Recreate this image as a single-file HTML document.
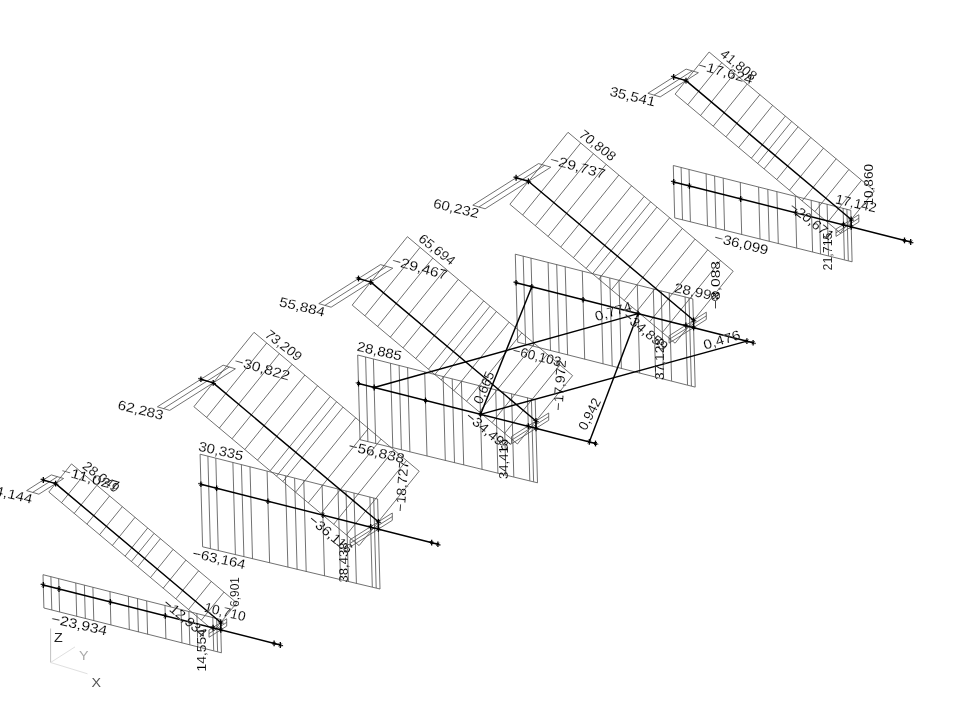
<!DOCTYPE html>
<html><head><meta charset="utf-8"><title>Axial force diagram</title>
<style>
html,body{margin:0;padding:0;background:#fff;}
body{width:960px;height:720px;overflow:hidden;font-family:"Liberation Sans",sans-serif;}
svg{display:block;}
.t{stroke:#4d4d4d;stroke-width:0.8;fill:none;}
.k{stroke:#000;stroke-width:1.45;fill:none;stroke-linejoin:round;}
.s{stroke:#000;stroke-width:1.3;fill:none;}
.s2{stroke:#000;stroke-width:0.9;fill:none;}
text{font-family:"Liberation Sans",sans-serif;}
svg{filter:grayscale(1);}
.lb text{font-size:13.5px;fill:#000;stroke:#fff;stroke-width:0.12;}
</style></head><body>
<svg width="960" height="720" viewBox="0 0 960 720">
<rect width="960" height="720" fill="#fff"/>
<g>
<path class="t" d="M43.0 574.7L220.5 619.5L221.4 652.8L43.9 608.0Z"/>
<path class="t" d="M50.9 576.7L51.8 610.0"/>
<path class="t" d="M58.7 578.7L59.6 612.0"/>
<path class="t" d="M75.8 583.0L76.7 616.3"/>
<path class="t" d="M84.4 585.2L85.3 618.5"/>
<path class="t" d="M92.9 587.4L93.8 620.7"/>
<path class="t" d="M110.0 591.7L110.9 625.0"/>
<path class="t" d="M128.4 596.3L129.3 629.6"/>
<path class="t" d="M137.5 598.7L138.4 632.0"/>
<path class="t" d="M146.7 601.0L147.6 634.3"/>
<path class="t" d="M165.0 605.6L165.9 638.9"/>
<path class="t" d="M181.0 609.5L181.9 642.8"/>
<path class="t" d="M188.9 611.5L189.8 644.8"/>
<path class="t" d="M196.9 613.4L197.8 646.7"/>
<path class="t" d="M212.8 617.3L213.7 650.6"/>
<path class="t" d="M216.7 618.4L217.6 651.7"/>
<path class="t" d="M71.5 463.9L236.7 602.8L214.0 630.9L48.8 492.0Z"/>
<path class="t" d="M84.2 474.6L61.5 502.7"/>
<path class="t" d="M96.9 485.3L74.2 513.4"/>
<path class="t" d="M109.6 496.0L86.9 524.1"/>
<path class="t" d="M122.3 506.7L99.6 534.7"/>
<path class="t" d="M135.0 517.3L112.4 545.4"/>
<path class="t" d="M147.7 528.0L125.1 556.1"/>
<path class="t" d="M160.4 538.7L137.8 566.8"/>
<path class="t" d="M173.1 549.4L150.5 577.5"/>
<path class="t" d="M185.9 560.1L163.2 588.2"/>
<path class="t" d="M198.6 570.8L175.9 598.8"/>
<path class="t" d="M211.3 581.4L188.6 609.5"/>
<path class="t" d="M224.0 592.1L201.3 620.2"/>
<path class="t" d="M154.1 533.4L131.4 561.5"/>
<path class="t" d="M26.6 490.6L51.3 474.9L63.6 478.5L38.9 494.2Z"/>
<path class="t" d="M32.7 492.4L57.5 476.7"/>
<path class="t" d="M209.0 630.0L226.7 618.8L226.7 626.1L209.0 637.3Z"/>
<path class="t" d="M209.0 633.6L226.7 622.4"/>
<path class="t" d="M200.1 454.2L377.6 499.0L380.0 589.0L202.6 546.8Z"/>
<path class="t" d="M207.9 456.2L210.4 548.6"/>
<path class="t" d="M215.8 458.2L218.3 550.5"/>
<path class="t" d="M232.9 462.6L235.4 554.6"/>
<path class="t" d="M241.4 464.8L243.9 556.7"/>
<path class="t" d="M250.0 466.9L252.5 558.7"/>
<path class="t" d="M267.1 471.2L269.6 562.8"/>
<path class="t" d="M285.4 475.9L287.9 567.2"/>
<path class="t" d="M294.6 478.2L297.1 569.4"/>
<path class="t" d="M303.8 480.5L306.2 571.6"/>
<path class="t" d="M322.1 485.1L324.5 575.9"/>
<path class="t" d="M338.0 489.0L340.5 579.6"/>
<path class="t" d="M346.0 491.0L348.4 581.4"/>
<path class="t" d="M354.0 493.0L356.4 583.3"/>
<path class="t" d="M369.9 496.9L372.3 587.0"/>
<path class="t" d="M373.7 498.0L376.2 588.0"/>
<path class="t" d="M254.0 332.3L419.2 471.2L359.1 545.6L193.9 406.7Z"/>
<path class="t" d="M266.7 343.0L206.6 417.4"/>
<path class="t" d="M279.4 353.6L219.3 428.1"/>
<path class="t" d="M292.1 364.3L232.0 438.8"/>
<path class="t" d="M304.9 375.0L244.8 449.5"/>
<path class="t" d="M317.6 385.7L257.5 460.2"/>
<path class="t" d="M330.3 396.4L270.2 470.8"/>
<path class="t" d="M343.0 407.1L282.9 481.5"/>
<path class="t" d="M355.7 417.8L295.6 492.2"/>
<path class="t" d="M368.4 428.4L308.3 502.9"/>
<path class="t" d="M381.1 439.1L321.0 513.6"/>
<path class="t" d="M393.8 449.8L333.7 524.3"/>
<path class="t" d="M406.5 460.5L346.4 534.9"/>
<path class="t" d="M336.6 401.7L276.5 476.2"/>
<path class="t" d="M157.4 406.8L223.1 365.2L235.4 368.8L169.7 410.4Z"/>
<path class="t" d="M163.5 408.6L229.3 367.0"/>
<path class="t" d="M350.1 539.7L392.3 513.0L392.3 520.3L350.1 547.0Z"/>
<path class="t" d="M350.1 543.3L392.3 516.6"/>
<path class="t" d="M357.7 355.0L535.2 399.8L537.5 482.8L360.0 439.7Z"/>
<path class="t" d="M365.6 357.0L367.9 441.6"/>
<path class="t" d="M373.4 359.0L375.7 443.5"/>
<path class="t" d="M390.5 363.3L392.8 447.7"/>
<path class="t" d="M399.1 365.5L401.4 449.8"/>
<path class="t" d="M407.6 367.7L409.9 451.9"/>
<path class="t" d="M424.7 372.0L427.0 456.1"/>
<path class="t" d="M443.1 376.6L445.3 460.5"/>
<path class="t" d="M452.2 378.9L454.5 462.7"/>
<path class="t" d="M461.4 381.3L463.7 465.0"/>
<path class="t" d="M479.7 385.9L482.0 469.4"/>
<path class="t" d="M495.7 389.8L497.9 473.2"/>
<path class="t" d="M503.6 391.8L505.9 475.1"/>
<path class="t" d="M511.6 393.7L513.8 476.9"/>
<path class="t" d="M527.5 397.6L529.8 480.7"/>
<path class="t" d="M531.4 398.7L533.6 481.7"/>
<path class="t" d="M407.4 236.7L572.6 375.6L517.4 444.0L352.2 305.1Z"/>
<path class="t" d="M420.1 247.4L364.9 315.8"/>
<path class="t" d="M432.8 258.1L377.6 326.5"/>
<path class="t" d="M445.5 268.8L390.3 337.2"/>
<path class="t" d="M458.2 279.5L403.0 347.9"/>
<path class="t" d="M471.0 290.2L415.7 358.6"/>
<path class="t" d="M483.7 300.9L428.5 369.2"/>
<path class="t" d="M496.4 311.5L441.2 379.9"/>
<path class="t" d="M509.1 322.2L453.9 390.6"/>
<path class="t" d="M521.8 332.9L466.6 401.3"/>
<path class="t" d="M534.5 343.6L479.3 412.0"/>
<path class="t" d="M547.2 354.3L492.0 422.7"/>
<path class="t" d="M559.9 365.0L504.7 433.3"/>
<path class="t" d="M490.0 306.2L434.8 374.6"/>
<path class="t" d="M318.8 303.6L380.5 264.6L392.8 268.2L331.1 307.2Z"/>
<path class="t" d="M324.9 305.4L386.6 266.4"/>
<path class="t" d="M511.5 436.5L548.7 413.0L548.7 420.3L511.5 443.8Z"/>
<path class="t" d="M511.5 440.2L548.7 416.6"/>
<path class="t" d="M515.3 254.2L692.8 298.9L695.2 387.1L517.7 342.2Z"/>
<path class="t" d="M523.2 256.1L525.6 344.2"/>
<path class="t" d="M531.0 258.1L533.4 346.2"/>
<path class="t" d="M548.1 262.5L550.5 350.6"/>
<path class="t" d="M556.7 264.6L559.1 352.8"/>
<path class="t" d="M565.2 266.8L567.6 354.9"/>
<path class="t" d="M582.3 271.1L584.7 359.2"/>
<path class="t" d="M600.7 275.8L603.0 363.9"/>
<path class="t" d="M609.8 278.1L612.2 366.2"/>
<path class="t" d="M619.0 280.4L621.4 368.5"/>
<path class="t" d="M637.3 285.0L639.7 373.1"/>
<path class="t" d="M653.3 288.9L655.6 377.1"/>
<path class="t" d="M661.2 290.9L663.6 379.0"/>
<path class="t" d="M669.2 292.8L671.6 380.9"/>
<path class="t" d="M685.1 296.8L687.5 384.9"/>
<path class="t" d="M689.0 297.9L691.4 386.0"/>
<path class="t" d="M568.0 132.3L733.2 271.2L675.1 343.2L509.9 204.3Z"/>
<path class="t" d="M580.7 143.0L522.6 215.0"/>
<path class="t" d="M593.4 153.7L535.3 225.7"/>
<path class="t" d="M606.1 164.4L548.0 236.4"/>
<path class="t" d="M618.8 175.1L560.7 247.0"/>
<path class="t" d="M631.5 185.8L573.4 257.7"/>
<path class="t" d="M644.2 196.4L586.1 268.4"/>
<path class="t" d="M656.9 207.1L598.8 279.1"/>
<path class="t" d="M669.6 217.8L611.5 289.8"/>
<path class="t" d="M682.3 228.5L624.2 300.5"/>
<path class="t" d="M695.0 239.2L637.0 311.1"/>
<path class="t" d="M707.7 249.9L649.7 321.8"/>
<path class="t" d="M720.5 260.6L662.4 332.5"/>
<path class="t" d="M650.6 201.8L592.5 273.8"/>
<path class="t" d="M472.8 205.2L538.5 163.6L550.8 167.2L485.1 208.8Z"/>
<path class="t" d="M478.9 207.0L544.6 165.4"/>
<path class="t" d="M669.1 335.8L706.3 312.2L706.3 319.5L669.1 343.1Z"/>
<path class="t" d="M669.1 339.4L706.3 315.9"/>
<path class="t" d="M673.3 165.5L850.8 210.3L852.1 261.8L674.7 217.9Z"/>
<path class="t" d="M681.1 167.5L682.5 219.9"/>
<path class="t" d="M689.0 169.5L690.4 221.8"/>
<path class="t" d="M706.1 173.8L707.5 226.1"/>
<path class="t" d="M714.6 176.0L716.0 228.2"/>
<path class="t" d="M723.2 178.2L724.6 230.3"/>
<path class="t" d="M740.3 182.5L741.7 234.6"/>
<path class="t" d="M758.6 187.1L760.0 239.1"/>
<path class="t" d="M767.8 189.4L769.2 241.4"/>
<path class="t" d="M776.9 191.8L778.3 243.6"/>
<path class="t" d="M795.3 196.4L796.7 248.2"/>
<path class="t" d="M811.2 200.3L812.6 252.0"/>
<path class="t" d="M819.2 202.2L820.5 253.9"/>
<path class="t" d="M827.1 204.2L828.5 255.8"/>
<path class="t" d="M843.1 208.1L844.4 259.6"/>
<path class="t" d="M846.9 209.2L848.3 260.7"/>
<path class="t" d="M709.1 52.0L874.3 190.9L840.3 233.0L675.1 94.1Z"/>
<path class="t" d="M721.8 62.7L687.8 104.7"/>
<path class="t" d="M734.5 73.3L700.6 115.4"/>
<path class="t" d="M747.2 84.0L713.3 126.1"/>
<path class="t" d="M759.9 94.7L726.0 136.8"/>
<path class="t" d="M772.6 105.4L738.7 147.5"/>
<path class="t" d="M785.4 116.1L751.4 158.2"/>
<path class="t" d="M798.1 126.8L764.1 168.9"/>
<path class="t" d="M810.8 137.4L776.8 179.5"/>
<path class="t" d="M823.5 148.1L789.5 190.2"/>
<path class="t" d="M836.2 158.8L802.2 200.9"/>
<path class="t" d="M848.9 169.5L814.9 211.6"/>
<path class="t" d="M861.6 180.2L827.6 222.3"/>
<path class="t" d="M791.7 121.4L757.7 163.5"/>
<path class="t" d="M647.9 93.3L686.1 69.1L698.4 72.7L660.2 96.9Z"/>
<path class="t" d="M654.1 95.1L692.3 70.9"/>
<path class="t" d="M836.0 229.1L858.8 214.7L858.8 222.0L836.0 236.4Z"/>
<path class="t" d="M836.0 232.8L858.8 218.3"/>
<path class="k" d="M43.3 585.0L280.3 645.0"/>
<path class="k" d="M43.3 480.0L55.6 483.6L220.8 622.5L220.8 629.8"/>
<path class="k" d="M200.9 484.2L437.9 544.2"/>
<path class="k" d="M200.9 379.2L213.2 382.9L378.4 521.8L378.4 529.0"/>
<path class="k" d="M358.5 383.5L595.5 443.5"/>
<path class="k" d="M358.5 278.5L370.8 282.1L536.0 421.0L536.0 428.3"/>
<path class="k" d="M516.1 282.8L753.1 342.8"/>
<path class="k" d="M516.1 177.8L528.4 181.3L693.6 320.2L693.6 327.6"/>
<path class="k" d="M673.7 182.0L910.7 242.0"/>
<path class="k" d="M673.7 77.0L686.0 80.6L851.2 219.5L851.2 226.8"/>
<path class="k" d="M374.2 387.5L638.1 313.6"/>
<path class="k" d="M531.8 286.8L480.5 414.4"/>
<path class="k" d="M480.5 414.4L746.9 341.1"/>
<path class="k" d="M638.1 313.6L589.3 441.9"/>
<path class="s" d="M43.3 582.1L43.3 587.9"/>
<path class="s2" d="M40.5 584.3L46.1 585.7M41.8 583.5L44.8 586.5M41.8 586.5L44.8 583.5"/>
<path class="s" d="M59.0 586.1L59.0 591.9"/>
<path class="s2" d="M56.2 588.3L61.8 589.7M57.5 587.5L60.5 590.5M57.5 590.5L60.5 587.5"/>
<path class="s" d="M110.3 599.1L110.3 604.9"/>
<path class="s2" d="M107.5 601.3L113.1 602.7M108.8 600.5L111.8 603.5M108.8 603.5L111.8 600.5"/>
<path class="s" d="M165.3 613.0L165.3 618.8"/>
<path class="s2" d="M162.5 615.2L168.1 616.6M163.8 614.4L166.8 617.4M163.8 617.4L166.8 614.4"/>
<path class="s" d="M213.1 624.7L213.1 630.5"/>
<path class="s2" d="M210.3 626.9L215.9 628.3M211.6 626.1L214.6 629.1M211.6 629.1L214.6 626.1"/>
<path class="s" d="M220.8 626.9L220.8 632.7"/>
<path class="s2" d="M218.0 629.1L223.6 630.5M219.3 628.3L222.3 631.3M219.3 631.3L222.3 628.3"/>
<path class="s" d="M274.1 640.5L274.1 646.3"/>
<path class="s2" d="M271.3 642.7L276.9 644.1M272.6 641.9L275.6 644.9M272.6 644.9L275.6 641.9"/>
<path class="s" d="M280.3 642.1L280.3 647.9"/>
<path class="s2" d="M277.5 644.3L283.1 645.7M278.8 643.5L281.8 646.5M278.8 646.5L281.8 643.5"/>
<path class="s" d="M43.3 477.1L43.3 482.9"/>
<path class="s2" d="M40.5 479.3L46.1 480.7M41.8 478.5L44.8 481.5M41.8 481.5L44.8 478.5"/>
<path class="s" d="M55.6 480.7L55.6 486.5"/>
<path class="s2" d="M52.8 482.9L58.4 484.3M54.1 482.1L57.1 485.1M54.1 485.1L57.1 482.1"/>
<path class="s" d="M220.8 619.6L220.8 625.4"/>
<path class="s2" d="M218.0 621.8L223.6 623.2M219.3 621.0L222.3 624.0M219.3 624.0L222.3 621.0"/>
<path class="s" d="M200.9 481.4L200.9 487.1"/>
<path class="s2" d="M198.1 483.6L203.7 484.9M199.4 482.8L202.4 485.8M199.4 485.8L202.4 482.8"/>
<path class="s" d="M216.6 485.4L216.6 491.1"/>
<path class="s2" d="M213.8 487.6L219.4 488.9M215.1 486.8L218.1 489.8M215.1 489.8L218.1 486.8"/>
<path class="s" d="M267.9 498.4L267.9 504.1"/>
<path class="s2" d="M265.1 500.6L270.7 501.9M266.4 499.8L269.4 502.8M266.4 502.8L269.4 499.8"/>
<path class="s" d="M322.9 512.2L322.9 518.0"/>
<path class="s2" d="M320.1 514.4L325.7 515.9M321.4 513.6L324.4 516.6M321.4 516.6L324.4 513.6"/>
<path class="s" d="M370.7 524.0L370.7 529.8"/>
<path class="s2" d="M367.9 526.1L373.5 527.6M369.2 525.4L372.2 528.4M369.2 528.4L372.2 525.4"/>
<path class="s" d="M378.4 526.1L378.4 531.9"/>
<path class="s2" d="M375.6 528.3L381.2 529.8M376.9 527.5L379.9 530.5M376.9 530.5L379.9 527.5"/>
<path class="s" d="M431.7 539.8L431.7 545.5"/>
<path class="s2" d="M428.9 541.9L434.5 543.4M430.2 541.1L433.2 544.1M430.2 544.1L433.2 541.1"/>
<path class="s" d="M437.9 541.4L437.9 547.1"/>
<path class="s2" d="M435.1 543.5L440.7 545.0M436.4 542.8L439.4 545.8M436.4 545.8L439.4 542.8"/>
<path class="s" d="M200.9 376.4L200.9 382.1"/>
<path class="s2" d="M198.1 378.6L203.7 379.9M199.4 377.8L202.4 380.8M199.4 380.8L202.4 377.8"/>
<path class="s" d="M213.2 380.0L213.2 385.8"/>
<path class="s2" d="M210.4 382.2L216.0 383.6M211.7 381.4L214.7 384.4M211.7 384.4L214.7 381.4"/>
<path class="s" d="M378.4 518.9L378.4 524.6"/>
<path class="s2" d="M375.6 521.0L381.2 522.5M376.9 520.2L379.9 523.2M376.9 523.2L379.9 520.2"/>
<path class="s" d="M358.5 380.6L358.5 386.4"/>
<path class="s2" d="M355.7 382.8L361.3 384.2M357.0 382.0L360.0 385.0M357.0 385.0L360.0 382.0"/>
<path class="s" d="M374.2 384.6L374.2 390.4"/>
<path class="s2" d="M371.4 386.8L377.0 388.2M372.7 386.0L375.7 389.0M372.7 389.0L375.7 386.0"/>
<path class="s" d="M425.5 397.6L425.5 403.4"/>
<path class="s2" d="M422.7 399.8L428.3 401.2M424.0 399.0L427.0 402.0M424.0 402.0L427.0 399.0"/>
<path class="s" d="M480.5 411.5L480.5 417.3"/>
<path class="s2" d="M477.7 413.7L483.3 415.1M479.0 412.9L482.0 415.9M479.0 415.9L482.0 412.9"/>
<path class="s" d="M528.3 423.2L528.3 429.0"/>
<path class="s2" d="M525.5 425.4L531.1 426.8M526.8 424.6L529.8 427.6M526.8 427.6L529.8 424.6"/>
<path class="s" d="M536.0 425.4L536.0 431.2"/>
<path class="s2" d="M533.2 427.6L538.8 429.0M534.5 426.8L537.5 429.8M534.5 429.8L537.5 426.8"/>
<path class="s" d="M589.3 439.0L589.3 444.8"/>
<path class="s2" d="M586.5 441.2L592.1 442.6M587.8 440.4L590.8 443.4M587.8 443.4L590.8 440.4"/>
<path class="s" d="M595.5 440.6L595.5 446.4"/>
<path class="s2" d="M592.7 442.8L598.3 444.2M594.0 442.0L597.0 445.0M594.0 445.0L597.0 442.0"/>
<path class="s" d="M358.5 275.6L358.5 281.4"/>
<path class="s2" d="M355.7 277.8L361.3 279.2M357.0 277.0L360.0 280.0M357.0 280.0L360.0 277.0"/>
<path class="s" d="M370.8 279.2L370.8 285.0"/>
<path class="s2" d="M368.0 281.4L373.6 282.8M369.3 280.6L372.3 283.6M369.3 283.6L372.3 280.6"/>
<path class="s" d="M536.0 418.1L536.0 423.9"/>
<path class="s2" d="M533.2 420.3L538.8 421.7M534.5 419.5L537.5 422.5M534.5 422.5L537.5 419.5"/>
<path class="s" d="M516.1 279.9L516.1 285.6"/>
<path class="s2" d="M513.3 282.1L518.9 283.4M514.6 281.2L517.6 284.2M514.6 284.2L517.6 281.2"/>
<path class="s" d="M531.8 283.9L531.8 289.6"/>
<path class="s2" d="M529.0 286.1L534.6 287.4M530.3 285.2L533.3 288.2M530.3 288.2L533.3 285.2"/>
<path class="s" d="M583.1 296.9L583.1 302.6"/>
<path class="s2" d="M580.3 299.1L585.9 300.4M581.6 298.2L584.6 301.2M581.6 301.2L584.6 298.2"/>
<path class="s" d="M638.1 310.8L638.1 316.5"/>
<path class="s2" d="M635.3 312.9L640.9 314.3M636.6 312.1L639.6 315.1M636.6 315.1L639.6 312.1"/>
<path class="s" d="M685.9 322.5L685.9 328.2"/>
<path class="s2" d="M683.1 324.7L688.7 326.1M684.4 323.9L687.4 326.9M684.4 326.9L687.4 323.9"/>
<path class="s" d="M693.6 324.7L693.6 330.4"/>
<path class="s2" d="M690.8 326.9L696.4 328.2M692.1 326.1L695.1 329.1M692.1 329.1L695.1 326.1"/>
<path class="s" d="M746.9 338.2L746.9 344.0"/>
<path class="s2" d="M744.1 340.4L749.7 341.8M745.4 339.6L748.4 342.6M745.4 342.6L748.4 339.6"/>
<path class="s" d="M753.1 339.9L753.1 345.6"/>
<path class="s2" d="M750.3 342.1L755.9 343.4M751.6 341.2L754.6 344.2M751.6 344.2L754.6 341.2"/>
<path class="s" d="M516.1 174.8L516.1 180.7"/>
<path class="s2" d="M513.3 177.1L518.9 178.4M514.6 176.2L517.6 179.2M514.6 179.2L517.6 176.2"/>
<path class="s" d="M528.4 178.4L528.4 184.2"/>
<path class="s2" d="M525.6 180.7L531.2 182.0M526.9 179.8L529.9 182.8M526.9 182.8L529.9 179.8"/>
<path class="s" d="M693.6 317.4L693.6 323.1"/>
<path class="s2" d="M690.8 319.6L696.4 320.9M692.1 318.8L695.1 321.8M692.1 321.8L695.1 318.8"/>
<path class="s" d="M673.7 179.1L673.7 184.9"/>
<path class="s2" d="M670.9 181.3L676.5 182.7M672.2 180.5L675.2 183.5M672.2 183.5L675.2 180.5"/>
<path class="s" d="M689.4 183.1L689.4 188.9"/>
<path class="s2" d="M686.6 185.3L692.2 186.7M687.9 184.5L690.9 187.5M687.9 187.5L690.9 184.5"/>
<path class="s" d="M740.7 196.1L740.7 201.9"/>
<path class="s2" d="M737.9 198.3L743.5 199.7M739.2 197.5L742.2 200.5M739.2 200.5L742.2 197.5"/>
<path class="s" d="M795.7 210.0L795.7 215.8"/>
<path class="s2" d="M792.9 212.2L798.5 213.6M794.2 211.4L797.2 214.4M794.2 214.4L797.2 211.4"/>
<path class="s" d="M843.5 221.7L843.5 227.5"/>
<path class="s2" d="M840.7 223.9L846.3 225.3M842.0 223.1L845.0 226.1M842.0 226.1L845.0 223.1"/>
<path class="s" d="M851.2 223.9L851.2 229.7"/>
<path class="s2" d="M848.4 226.1L854.0 227.5M849.7 225.3L852.7 228.3M849.7 228.3L852.7 225.3"/>
<path class="s" d="M904.5 237.5L904.5 243.3"/>
<path class="s2" d="M901.7 239.7L907.3 241.1M903.0 238.9L906.0 241.9M903.0 241.9L906.0 238.9"/>
<path class="s" d="M910.7 239.1L910.7 244.9"/>
<path class="s2" d="M907.9 241.3L913.5 242.7M909.2 240.5L912.2 243.5M909.2 243.5L912.2 240.5"/>
<path class="s" d="M673.7 74.1L673.7 79.9"/>
<path class="s2" d="M670.9 76.3L676.5 77.7M672.2 75.5L675.2 78.5M672.2 78.5L675.2 75.5"/>
<path class="s" d="M686.0 77.7L686.0 83.5"/>
<path class="s2" d="M683.2 79.9L688.8 81.3M684.5 79.1L687.5 82.1M684.5 82.1L687.5 79.1"/>
<path class="s" d="M851.2 216.6L851.2 222.4"/>
<path class="s2" d="M848.4 218.8L854.0 220.2M849.7 218.0L852.7 221.0M849.7 221.0L852.7 218.0"/>
</g>
<g>
<path d="M50.6 628.5L50.6 662.5" stroke="#c2c2c2" stroke-width="1" fill="none"/>
<path d="M50.6 662.5L87.5 673.8M50.6 662.5L75 646.9" stroke="#e0e0e0" stroke-width="1" fill="none"/>
<text x="54" y="642" font-size="13" fill="#222" transform="translate(54 642) scale(1.1 1) translate(-54 -642)">Z</text>
<text x="79" y="660.5" font-size="13" fill="#aaa" transform="translate(79 660.5) scale(1.1 1) translate(-79 -660.5)">Y</text>
<text x="91.5" y="687.5" font-size="13" fill="#555" transform="translate(91.5 687.5) scale(1.1 1) translate(-91.5 -687.5)">X</text>
</g>
<g class="lb">
<text transform="translate(-13.9 492.8) rotate(13.5) skewX(0)" font-size="13.5" textLength="46.5" lengthAdjust="spacingAndGlyphs">24,144</text>
<text transform="translate(81.5 467.5) rotate(37.7) skewX(-3)" font-size="13.5" textLength="42" lengthAdjust="spacingAndGlyphs">28,049</text>
<text transform="translate(60.3 474.7) rotate(15.7) skewX(0)" font-size="13.5" textLength="60" lengthAdjust="spacingAndGlyphs">−11,027</text>
<text transform="translate(117.1 409.0) rotate(13.5) skewX(0)" font-size="13.5" textLength="46.5" lengthAdjust="spacingAndGlyphs">62,283</text>
<text transform="translate(264.0 335.9) rotate(37.7) skewX(-3)" font-size="13.5" textLength="42" lengthAdjust="spacingAndGlyphs">73,209</text>
<text transform="translate(233.6 365.0) rotate(15.7) skewX(0)" font-size="13.5" textLength="57" lengthAdjust="spacingAndGlyphs">−30,822</text>
<text transform="translate(278.5 305.9) rotate(13.5) skewX(0)" font-size="13.5" textLength="46.5" lengthAdjust="spacingAndGlyphs">55,884</text>
<text transform="translate(417.4 240.3) rotate(37.7) skewX(-3)" font-size="13.5" textLength="42" lengthAdjust="spacingAndGlyphs">65,694</text>
<text transform="translate(391.0 264.4) rotate(15.7) skewX(0)" font-size="13.5" textLength="57" lengthAdjust="spacingAndGlyphs">−29,467</text>
<text transform="translate(432.4 207.4) rotate(13.5) skewX(0)" font-size="13.5" textLength="46.5" lengthAdjust="spacingAndGlyphs">60,232</text>
<text transform="translate(578.0 135.9) rotate(37.7) skewX(-3)" font-size="13.5" textLength="42" lengthAdjust="spacingAndGlyphs">70,808</text>
<text transform="translate(549.0 163.4) rotate(15.7) skewX(0)" font-size="13.5" textLength="57" lengthAdjust="spacingAndGlyphs">−29,737</text>
<text transform="translate(608.9 95.5) rotate(13.5) skewX(0)" font-size="13.5" textLength="46.5" lengthAdjust="spacingAndGlyphs">35,541</text>
<text transform="translate(719.1 55.6) rotate(37.7) skewX(-3)" font-size="13.5" textLength="42" lengthAdjust="spacingAndGlyphs">41,808</text>
<text transform="translate(696.6 68.9) rotate(15.7) skewX(0)" font-size="13.5" textLength="57" lengthAdjust="spacingAndGlyphs">−17,624</text>
<text transform="translate(203.5 611.5) rotate(13.5) skewX(0)" font-size="13.5" textLength="42" lengthAdjust="spacingAndGlyphs">10,710</text>
<text transform="translate(50.3 622.8) rotate(12.7) skewX(0)" font-size="13.5" textLength="57" lengthAdjust="spacingAndGlyphs">−23,934</text>
<text transform="translate(162.1 604.8) rotate(40) skewX(-3)" font-size="13.5" textLength="52" lengthAdjust="spacingAndGlyphs">−12,934</text>
<text transform="translate(206.2 671.5) rotate(-90) skewX(0)" font-size="14.8" textLength="42.5" lengthAdjust="spacingAndGlyphs">14,554</text>
<text transform="translate(238.8 607) rotate(-90) skewX(0)" font-size="14.8" textLength="30" lengthAdjust="spacingAndGlyphs">6,901</text>
<text transform="translate(197.8 450.5) rotate(12.7) skewX(0)" font-size="13.5" textLength="45.5" lengthAdjust="spacingAndGlyphs">30,335</text>
<text transform="translate(191.7 557.5) rotate(12.5) skewX(0)" font-size="13.5" textLength="54" lengthAdjust="spacingAndGlyphs">−63,164</text>
<text transform="translate(307.6 521.1) rotate(39.5) skewX(-3)" font-size="13.5" textLength="52" lengthAdjust="spacingAndGlyphs">−36,116</text>
<text transform="translate(347.5 582.5) rotate(-90) skewX(0)" font-size="14.8" textLength="40" lengthAdjust="spacingAndGlyphs">38,438</text>
<text transform="translate(404.5 512) rotate(-85.5) skewX(0)" font-size="14.8" textLength="51" lengthAdjust="spacingAndGlyphs">−18,727</text>
<text transform="translate(356.3 350.6) rotate(12.7) skewX(0)" font-size="13.5" textLength="45.5" lengthAdjust="spacingAndGlyphs">28,885</text>
<text transform="translate(347.8 450) rotate(13.5) skewX(0)" font-size="13.5" textLength="57" lengthAdjust="spacingAndGlyphs">−56,838</text>
<text transform="translate(464.6 418) rotate(39.2) skewX(-3)" font-size="13.5" textLength="53" lengthAdjust="spacingAndGlyphs">−34,495</text>
<text transform="translate(508 479) rotate(-90) skewX(0)" font-size="14.8" textLength="40" lengthAdjust="spacingAndGlyphs">34,416</text>
<text transform="translate(562.5 411) rotate(-86) skewX(0)" font-size="14.8" textLength="51" lengthAdjust="spacingAndGlyphs">−17,972</text>
<text transform="translate(673.5 292) rotate(12) skewX(0)" font-size="13.5" textLength="46" lengthAdjust="spacingAndGlyphs">28,998</text>
<text transform="translate(511.8 354.5) rotate(14) skewX(0)" font-size="13.5" textLength="49.5" lengthAdjust="spacingAndGlyphs">−60,103</text>
<text transform="translate(622.1 317.6) rotate(39.5) skewX(-3)" font-size="13.5" textLength="53" lengthAdjust="spacingAndGlyphs">−34,859</text>
<text transform="translate(663.8 380) rotate(-90) skewX(0)" font-size="14.8" textLength="42" lengthAdjust="spacingAndGlyphs">37,128</text>
<text transform="translate(720 309) rotate(-90) skewX(0)" font-size="14.8" textLength="48" lengthAdjust="spacingAndGlyphs">−8,088</text>
<text transform="translate(834.8 203.2) rotate(13) skewX(0)" font-size="13.5" textLength="41.5" lengthAdjust="spacingAndGlyphs">17,142</text>
<text transform="translate(713.6 241.5) rotate(14) skewX(0)" font-size="13.5" textLength="55" lengthAdjust="spacingAndGlyphs">−36,099</text>
<text transform="translate(788.3 208.6) rotate(38) skewX(-3)" font-size="13.5" textLength="52" lengthAdjust="spacingAndGlyphs">−20,671</text>
<text transform="translate(832 270.5) rotate(-90) skewX(0)" font-size="14.8" textLength="38" lengthAdjust="spacingAndGlyphs">21,715</text>
<text transform="translate(873.3 205.5) rotate(-90) skewX(0)" font-size="14.8" textLength="41.5" lengthAdjust="spacingAndGlyphs">10,860</text>
<text transform="translate(481.5 405) rotate(-67) skewX(0)" font-size="13.5" textLength="34" lengthAdjust="spacingAndGlyphs">0,665</text>
<text transform="translate(596.5 321.3) rotate(-17) skewX(0)" font-size="13.5" textLength="38" lengthAdjust="spacingAndGlyphs">0,774</text>
<text transform="translate(585.9 431.3) rotate(-63) skewX(0)" font-size="13.5" textLength="34" lengthAdjust="spacingAndGlyphs">0,942</text>
<text transform="translate(705 349.8) rotate(-17) skewX(0)" font-size="13.5" textLength="38" lengthAdjust="spacingAndGlyphs">0,476</text>
</g>
</svg>
</body></html>
